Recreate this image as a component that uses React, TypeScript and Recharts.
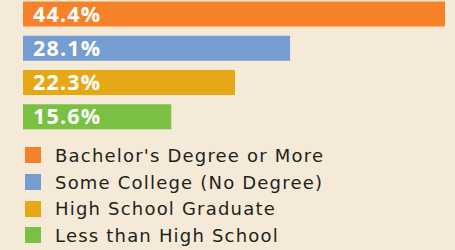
import React from 'react'
import { Bar, BarChart, Cell, LabelList, Legend, XAxis, YAxis } from 'recharts'

const categories = [
  "Bachelor's Degree or More",
  'Some College (No Degree)',
  'High School Graduate',
  'Less than High School',
]
const shares = [44.4, 28.1, 22.3, 15.6]
const colors = ['#f68128', '#759dd2', '#e7a817', '#7ac143']

const data = categories.map((name, i) => ({ name, value: shares[i] }))

const LegendBox = () => (
  <div>
    {categories.map((name, i) => (
      <div
        key={name}
        style={{ display: 'flex', alignItems: 'center', height: 26.7 }}
      >
        <span
          style={{
            width: 16,
            height: 16,
            marginLeft: 25,
            marginRight: 14,
            background: colors[i],
            display: 'inline-block',
          }}
        />
        <span style={{ fontSize: 18, letterSpacing: 1.2, color: '#231f20' }}>
          {name}
        </span>
      </div>
    ))}
  </div>
)

export default function App() {
  return (
    <div
      style={{
        position: 'absolute',
        left: 0,
        top: 0,
        width: 455,
        height: 250,
        background: '#f5ead7',
        fontFamily: 'DejaVu Sans, sans-serif',
      }}
    >
      <BarChart
        width={455}
        height={250}
        data={data}
        layout="vertical"
        margin={{ top: -3.6, right: 10, left: 23, bottom: 116.4 }}
      >
        <XAxis type="number" domain={[0, 44.4]} hide />
        <YAxis type="category" dataKey="name" hide />
        <Legend
          layout="vertical"
          align="center"
          verticalAlign="middle"
          content={<LegendBox />}
          wrapperStyle={{ position: 'absolute', left: 0, top: 142, width: 455 }}
        />
        <Bar dataKey="value" barSize={25} isAnimationActive={false}>
          {data.map((d, i) => (
            <Cell key={d.name} fill={colors[i]} />
          ))}
          <LabelList
            dataKey="value"
            position="insideLeft"
            offset={10}
            formatter={(v: any) => `${v}%`}
            fill="#ffffff"
            style={{
              fontFamily: 'Open Sans',
              fontWeight: 700,
              fontSize: 21.5,
              letterSpacing: 1.2,
            }}
          />
        </Bar>
      </BarChart>
    </div>
  )
}
